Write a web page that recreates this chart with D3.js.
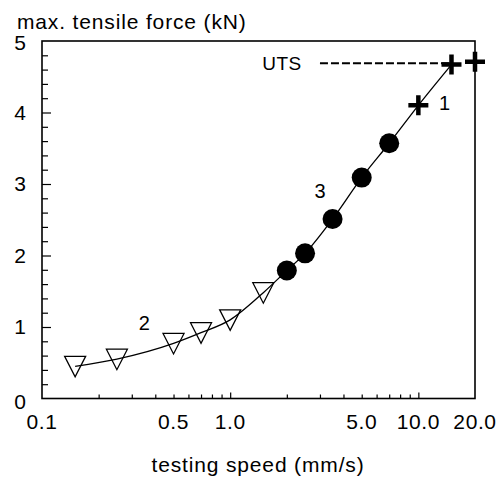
<!DOCTYPE html>
<html>
<head>
<meta charset="utf-8">
<script src="https://cdn.jsdelivr.net/npm/d3@7"></script>
<style>
  body { margin: 0; background: #fff; }
  text { font-family: "Liberation Sans", Arial, sans-serif; fill: #000; }
</style>
</head>
<body>
<div id="chart"></div>
<script>
// data
const triSpeed = [0.15, 0.25, 0.5, 0.7, 1.0, 1.5];
const triForce = [0.45, 0.55, 0.77, 0.92, 1.10, 1.48];
const dotSpeed = [2.0, 2.5, 3.5, 5.0, 7.0];
const dotForce = [1.79, 2.03, 2.51, 3.09, 3.57];
const crossSpeed = [10, 15, 20];
const crossForce = [4.10, 4.67, 4.71];
const utsForce = 4.69;
const utsFrom = 3, utsTo = 15;

const xLabelTicks = [0.1, 0.5, 1, 5, 10, 20];
const xLabelText = ["0.1", "0.5", "1.0", "5.0", "10.0", "20.0"];
const xMinorTicks = [0.2, 0.3, 0.4, 0.5, 0.6, 0.7, 0.8, 0.9, 2, 3, 4, 5, 6, 7, 8, 9];
const xMajorTicks = [1, 10];
const yLabelTicks = [0, 1, 2, 3, 4, 5];
const yMinorTicks = d3.range(0.2, 5, 0.2).filter(v => Math.abs(v - Math.round(v)) > 0.01);
const yMajorTicks = [1, 2, 3, 4];

const width = 502, height = 480;
const margin = {left: 42, top: 41, right: 27, bottom: 81.5};
const w = width - margin.left - margin.right;
const h = height - margin.top - margin.bottom;

const svg = d3.select('#chart')
    .append('svg')
    .attr('width', width)
    .attr('height', height)
    .append('g')
    .attr('transform', 'translate(' + margin.left + ',' + margin.top + ')');

const x = d3.scaleLog().domain([0.1, 20]).range([0, w]);
const y = d3.scaleLinear().domain([0, 5]).range([h, 0]);

// ticks pointing inwards
function tickAxis(axis, vals, size) {
    return axis.tickValues(vals).tickSizeInner(size).tickSizeOuter(0).tickFormat('');
}
const gx1 = svg.append('g').attr('transform', 'translate(0,' + h + ')')
    .call(tickAxis(d3.axisBottom(x), xMinorTicks, -4));
const gx2 = svg.append('g').attr('transform', 'translate(0,' + h + ')')
    .call(tickAxis(d3.axisBottom(x), xMajorTicks, -6));
const gy1 = svg.append('g').call(tickAxis(d3.axisLeft(y), yMinorTicks, -6));
const gy2 = svg.append('g').call(tickAxis(d3.axisLeft(y), yMajorTicks, -9));
[gx1, gx2, gy1, gy2].forEach(g => {
    g.select('.domain').remove();
    g.selectAll('line').attr('stroke', '#000').attr('stroke-width', 1.2);
});

// frame
svg.append('rect')
    .attr('width', w).attr('height', h)
    .attr('fill', 'none').attr('stroke', '#000').attr('stroke-width', 1.6);

// tick labels
svg.append('g').selectAll('text').data(xLabelTicks).join('text')
    .attr('x', d => x(d)).attr('y', h + 30)
    .attr('text-anchor', 'middle').attr('font-size', 21).attr('letter-spacing', 0.6)
    .text((d, i) => xLabelText[i]);
svg.append('g').selectAll('text').data(yLabelTicks).join('text')
    .attr('x', -22).attr('y', d => y(d) + 7 + (d === 0 ? 3 : 0) + (d === 5 ? 2 : 0))
    .attr('text-anchor', 'middle').attr('font-size', 21)
    .text(d => d);

// axis titles
svg.append('text').attr('x', -25).attr('y', -12.5).attr('font-size', 21).attr('letter-spacing', 0.85)
    .text('max. tensile force (kN)');
svg.append('text').attr('x', 258 - margin.left).attr('y', 472 - margin.top)
    .attr('text-anchor', 'middle').attr('font-size', 21).attr('letter-spacing', 0.85)
    .text('testing speed (mm/s)');

// fitted curve through the measurements
const curvePts = triSpeed.map((s, i) => [s, triForce[i]])
    .concat(dotSpeed.map((s, i) => [s, dotForce[i]]))
    .concat([[crossSpeed[0], crossForce[0]], [crossSpeed[1], crossForce[1]]]);
svg.append('path')
    .datum(curvePts)
    .attr('fill', 'none').attr('stroke', '#000').attr('stroke-width', 1.3)
    .attr('d', d3.line().x(d => x(d[0])).y(d => y(d[1])).curve(d3.curveMonotoneX));

// UTS line
svg.append('line')
    .attr('x1', x(utsFrom)).attr('x2', x(utsTo))
    .attr('y1', y(utsForce)).attr('y2', y(utsForce))
    .attr('stroke', '#000').attr('stroke-width', 2).attr('stroke-dasharray', '8,3');
svg.append('text').attr('x', x(utsFrom) - 38).attr('y', y(utsForce) + 6.5)
    .attr('text-anchor', 'middle').attr('font-size', 19).attr('letter-spacing', 0.4).text('UTS');

// triangles
svg.append('g').selectAll('path').data(triSpeed).join('path')
    .attr('d', (d, i) => {
        const cx = x(d), cy = y(triForce[i]);
        return 'M' + (cx - 10.5) + ',' + (cy - 10) + 'L' + (cx + 10.5) + ',' + (cy - 10) +
            'L' + cx + ',' + (cy + 10.5) + 'Z';
    })
    .attr('fill', 'none').attr('stroke', '#000').attr('stroke-width', 1.3);

// dots
svg.append('g').selectAll('circle').data(dotSpeed).join('circle')
    .attr('cx', d => x(d)).attr('cy', (d, i) => y(dotForce[i]))
    .attr('r', 10).attr('fill', '#000');

// crosses
svg.append('g').selectAll('path').data(crossSpeed).join('path')
    .attr('d', (d, i) => {
        const cx = x(d), cy = y(crossForce[i]);
        return 'M' + (cx - 10) + ',' + cy + 'H' + (cx + 10) + 'M' + cx + ',' + (cy - 10) + 'V' + (cy + 10);
    })
    .attr('stroke', '#000').attr('stroke-width', 4.5);

// series labels
const labels = [
    {t: '1', s: 13.8, f: 4.13},
    {t: '2', s: 0.35, f: 1.05},
    {t: '3', s: 3.0, f: 2.9}
];
svg.append('g').selectAll('text').data(labels).join('text')
    .attr('x', d => x(d.s)).attr('y', d => y(d.f) + 7)
    .attr('text-anchor', 'middle').attr('font-size', 20)
    .text(d => d.t);
</script>
</body>
</html>
